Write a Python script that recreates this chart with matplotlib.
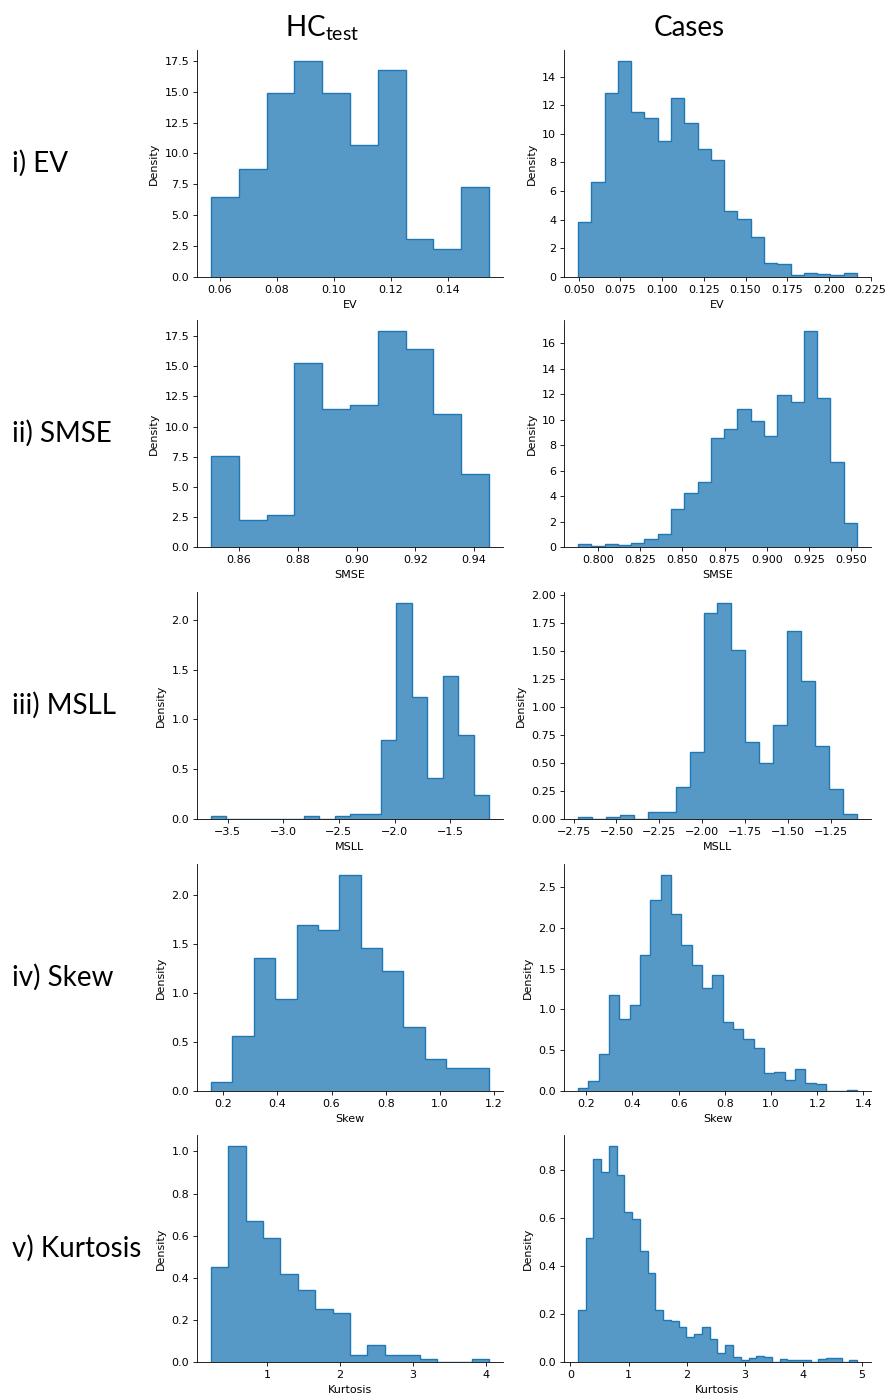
import numpy as np
import matplotlib.pyplot as plt
from matplotlib.ticker import MultipleLocator

plt.rcParams['mathtext.fontset'] = 'custom'
plt.rcParams['mathtext.rm'] = 'Lato'
plt.rcParams['font.size'] = 8
plt.rcParams['axes.linewidth'] = 0.6
plt.rcParams['xtick.major.size'] = 2.6
plt.rcParams['ytick.major.size'] = 2.6
plt.rcParams['xtick.major.width'] = 0.6
plt.rcParams['ytick.major.width'] = 0.6
plt.rcParams['xtick.major.pad'] = 3
plt.rcParams['ytick.major.pad'] = 3
plt.rcParams['axes.labelpad'] = 4

# row / column labels
row_labels = ['i) EV', 'ii) SMSE', 'iii) MSLL', 'iv) Skew', 'v) Kurtosis']
x_labels = ['EV', 'SMSE', 'MSLL', 'Skew', 'Kurtosis']
col_titles = [r'$\mathrm{HC}_{\mathrm{test}}$', 'Cases']

# histogram densities; (low, high) = outer bin edges
hc_ev_range = (0.0568, 0.1546)
hc_ev = [6.49, 8.76, 14.88, 17.5, 14.88, 10.68, 16.74, 3.06, 2.30, 7.25]
cases_ev_range = (0.0495, 0.2169)
cases_ev = [3.87, 6.67, 12.88, 15.1, 11.53, 11.13, 9.50, 12.48, 10.73, 8.91, 8.14,
            4.64, 4.06, 2.82, 0.98, 0.89, 0.12, 0.30, 0.21, 0.12, 0.30]

hc_smse_range = (0.8504, 0.9451)
hc_smse = [7.57, 2.25, 2.64, 15.25, 11.44, 11.83, 17.95, 16.42, 11.05, 6.04]
cases_smse_range = (0.7882, 0.9534)
cases_smse = [0.24, 0.10, 0.24, 0.18, 0.34, 0.63, 1.03, 2.95, 4.26, 5.13, 8.58,
              9.24, 10.82, 9.89, 8.74, 11.92, 11.39, 16.97, 11.71, 6.66, 1.87]

hc_msll_range = (-3.65, -1.15)
hc_msll = [0.03, 0, 0, 0, 0, 0, 0.03, 0, 0.03, 0.054, 0.054, 0.79, 2.17, 1.22,
           0.41, 1.44, 0.84, 0.245]
cases_msll_range = (-2.725, -1.0955)
cases_msll = [0.018, 0, 0.018, 0.036, 0, 0.066, 0.066, 0.287, 0.598, 1.84, 1.93,
              1.507, 0.69, 0.502, 0.837, 1.677, 1.232, 0.655, 0.266, 0.042]

hc_skew_range = (0.1546, 1.1816)
hc_skew = [0.092, 0.563, 1.355, 0.939, 1.689, 1.642, 2.201, 1.451, 1.218, 0.652,
           0.328, 0.232, 0.232]
cases_skew_range = (0.1639, 1.3725)
cases_skew = [0.033, 0.119, 0.452, 1.176, 0.884, 1.053, 1.673, 2.34, 2.652, 2.167,
              1.793, 1.546, 1.266, 1.423, 0.851, 0.761, 0.641, 0.522, 0.222, 0.238,
              0.136, 0.276, 0.099, 0.082, 0, 0, 0.016]

hc_kurt_range = (0.2283, 4.041)
hc_kurt = [0.451, 1.027, 0.671, 0.591, 0.420, 0.343, 0.251, 0.232, 0.032, 0.079,
           0.032, 0.032, 0.014, 0, 0, 0.014]
cases_kurt_range = (0.132, 4.92)
cases_kurt = [0.217, 0.52, 0.846, 0.793, 0.903, 0.782, 0.625, 0.596, 0.462, 0.373,
              0.218, 0.176, 0.171, 0.147, 0.106, 0.117, 0.147, 0.094, 0.036, 0.070,
              0.020, 0.008, 0.017, 0.024, 0.020, 0, 0.011, 0.007, 0.007, 0.007,
              0, 0.013, 0.018, 0.018, 0, 0.007]

panels = [
    [(hc_ev_range, hc_ev), (cases_ev_range, cases_ev)],
    [(hc_smse_range, hc_smse), (cases_smse_range, cases_smse)],
    [(hc_msll_range, hc_msll), (cases_msll_range, cases_msll)],
    [(hc_skew_range, hc_skew), (cases_skew_range, cases_skew)],
    [(hc_kurt_range, hc_kurt), (cases_kurt_range, cases_kurt)],
]

# tick spacing per panel (x step, y step)
tick_steps = [
    [(0.02, 2.5), (0.025, 2)],
    [(0.02, 2.5), (0.025, 2)],
    [(0.5, 0.5), (0.25, 0.25)],
    [(0.2, 0.5), (0.2, 0.5)],
    [(1, 0.2), (1, 0.2)],
]

W, H = 887, 1398
fig = plt.figure(figsize=(W / 100, H / 100), dpi=100)

col_x = [197, 564]
col_w = [306, 307]
row_bottom = [277, 547, 819, 1091, 1362]
ax_h = 227
blue = '#1f77b4'

for r, row in enumerate(panels):
    for c, (rng, dens) in enumerate(row):
        ax = fig.add_axes([col_x[c] / W, 1 - row_bottom[r] / H, col_w[c] / W, ax_h / H])
        edges = np.linspace(rng[0], rng[1], len(dens) + 1)
        ax.stairs(dens, edges, fill=True, color=blue, alpha=0.75, lw=0)
        ax.stairs(dens, edges, color=blue, lw=1.0, baseline=0)
        span = edges[-1] - edges[0]
        ax.set_xlim(edges[0] - 0.05 * span, edges[-1] + 0.05 * span)
        ax.set_ylim(0, max(dens) * 1.05)
        ax.xaxis.set_major_locator(MultipleLocator(tick_steps[r][c][0]))
        ax.yaxis.set_major_locator(MultipleLocator(tick_steps[r][c][1]))
        ax.spines['top'].set_visible(False)
        ax.spines['right'].set_visible(False)
        ax.set_xlabel(x_labels[r])
        ax.set_ylabel('Density')
    yc = 1 - (row_bottom[r] - ax_h / 2) / H
    fig.text(12 / W, yc, row_labels[r], family='Lato', fontsize=20,
             ha='left', va='center')

fig.text(322 / W, 1 - 28 / H, col_titles[0], family='Lato', fontsize=20,
         ha='center', va='center')
fig.text(689 / W, 1 - 28 / H, col_titles[1], family='Lato', fontsize=20,
         ha='center', va='center')

fig.savefig('out.png', dpi=100)
